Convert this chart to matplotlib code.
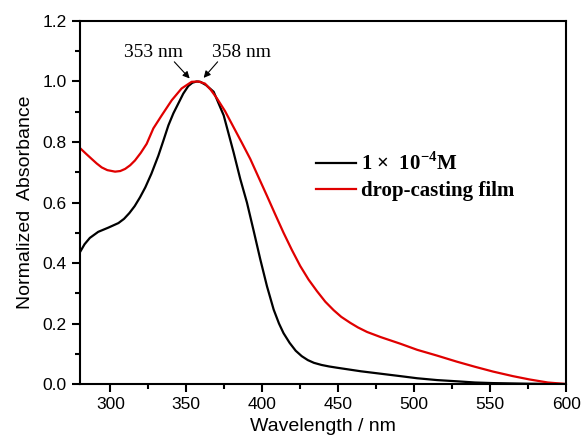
import matplotlib
matplotlib.use("Agg")
import matplotlib.pyplot as plt
from matplotlib.ticker import MultipleLocator

black_wl = [280, 283, 286.5, 292, 298.7, 305.3, 309, 312.5, 316, 319.5, 323, 327, 331.6, 335,
            338.2, 341.5, 344.7, 348, 351.3, 354, 356.8, 359.2, 363, 368, 374.6, 381.1, 385.5,
            389.9, 394.3, 398.7, 403.1, 407.5, 411, 414, 418, 422, 426, 430, 434, 439, 444, 449,
            457, 465, 478, 491, 502, 515, 528, 540, 552, 575, 600]
black_val = [0.436, 0.462, 0.483, 0.503, 0.517, 0.532, 0.546, 0.565, 0.588, 0.617, 0.650, 0.695,
             0.755, 0.806, 0.855, 0.895, 0.927, 0.960, 0.985, 0.996, 1.0, 0.999, 0.988, 0.966,
             0.888, 0.766, 0.678, 0.60, 0.507, 0.412, 0.323, 0.246, 0.200, 0.168, 0.136, 0.110,
             0.092, 0.079, 0.070, 0.063, 0.058, 0.054, 0.048, 0.042, 0.034, 0.026, 0.019, 0.013,
             0.009, 0.005, 0.003, 0.001, 0.0]

red_wl = [280, 284, 287.7, 291, 294.3, 298, 303.1, 306.5, 309.7, 313, 316.2, 320, 323.9, 328.3,
          333.8, 340.4, 346.9, 353.5, 358, 362.3, 366, 370.2, 375.5, 381.1, 386.5, 392.1, 397.5,
          403.1, 408.5, 414, 419.5, 425, 430.5, 436, 441.5, 447, 452, 458, 463, 469, 478, 491,
          502, 515, 528, 540, 552, 565, 576, 588, 600]
red_val = [0.78, 0.761, 0.744, 0.729, 0.716, 0.707, 0.702, 0.704, 0.711, 0.723, 0.739, 0.764,
           0.794, 0.845, 0.888, 0.938, 0.977, 0.999, 1.0, 0.993, 0.973, 0.944, 0.902, 0.849,
           0.798, 0.744, 0.684, 0.622, 0.561, 0.50, 0.443, 0.39, 0.345, 0.307, 0.272, 0.244,
           0.222, 0.202, 0.187, 0.172, 0.155, 0.133, 0.113, 0.094, 0.074, 0.057, 0.041, 0.026,
           0.015, 0.005, 0.0]

labels = ["1 \u00d7  10$^{\\mathbf{-4}}$M", "drop-casting film"]
peak_labels = ["353 nm", "358 nm"]
peak_text_pos = [(328.5, 1.082), (386.2, 1.082)]
arrow_tails = [(342.1, 1.065), (370.6, 1.065)]
arrow_heads = [(352.2, 1.010), (361.4, 1.012)]

plt.rcParams['mathtext.fontset'] = 'custom'
plt.rcParams['mathtext.rm'] = 'Liberation Serif'
plt.rcParams['mathtext.bf'] = 'Liberation Serif:bold'

fig = plt.figure(figsize=(5.86, 4.42), dpi=100)
ax = fig.add_axes([0.1365, 0.1312, 0.8295, 0.8213])

ax.plot(black_wl, black_val, color='black', lw=1.6, label=labels[0])
ax.plot(red_wl, red_val, color='#e00000', lw=1.6, label=labels[1])

ax.set_xlim(280, 600)
ax.set_ylim(0, 1.2)
ax.xaxis.set_minor_locator(MultipleLocator(25))
ax.yaxis.set_minor_locator(MultipleLocator(0.1))
ax.set_yticks([0.0, 0.2, 0.4, 0.6, 0.8, 1.0, 1.2])
ax.set_yticklabels(["0.0", "0.2", "0.4", "0.6", "0.8", "1.0", "1.2"])
ax.set_xticks([300, 350, 400, 450, 500, 550, 600])

for s in ax.spines.values():
    s.set_linewidth(1.5)
ax.tick_params(which='major', direction='out', length=6, width=1.5, labelsize=12.5,
               top=False, right=False)
ax.tick_params(which='minor', direction='out', length=3.5, width=1.5, top=False, right=False)
for lab in ax.get_xticklabels() + ax.get_yticklabels():
    lab.set_fontfamily('Liberation Sans')

ax.set_xlabel("Wavelength / nm", fontsize=14, family='Liberation Sans', labelpad=4)
ax.set_ylabel("Normalized  Absorbance", fontsize=14, family='Liberation Sans', labelpad=6)

for lbl, pos, tail, head in zip(peak_labels, peak_text_pos, arrow_tails, arrow_heads):
    ax.text(pos[0], pos[1], lbl, ha='center', va='baseline', fontsize=14,
            family='Liberation Serif')
    ax.annotate('', xy=head, xytext=tail,
                arrowprops=dict(arrowstyle='-|>', color='black', lw=0.8, mutation_scale=10,
                                shrinkA=0, shrinkB=0))

leg = ax.legend(loc='upper left', bbox_to_anchor=(0.4856, 0.638), frameon=False,
                prop={'family': 'Liberation Serif', 'weight': 'bold', 'size': 15},
                handlelength=1.9, handletextpad=0.25, borderpad=0, borderaxespad=0,
                labelspacing=0.3)

fig.savefig("out.png", dpi=100)
